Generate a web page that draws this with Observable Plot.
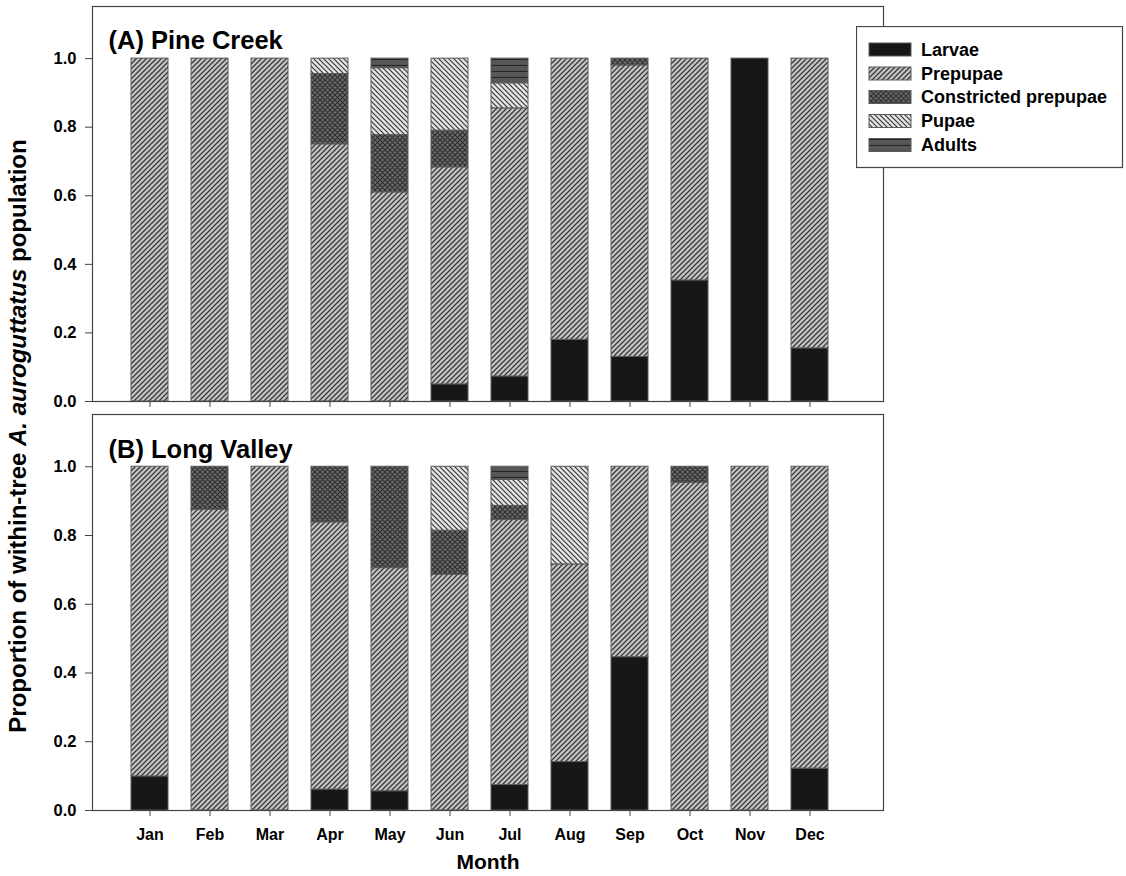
<!DOCTYPE html>
<html>
<head>
<meta charset="utf-8">
<script src="https://cdn.jsdelivr.net/npm/d3@7"></script>
<script src="https://cdn.jsdelivr.net/npm/@observablehq/plot@0.6"></script>
<style>
  body { margin: 0; background: #fff; }
  #wrap { position: relative; width: 1126px; height: 876px; font-family: "Liberation Sans", Arial, sans-serif; }
  #wrap svg { font-family: "Liberation Sans", Arial, sans-serif; }
  .abs { position: absolute; }
  #ylab { position: absolute; left: -332px; top: 423px; width: 700px; height: 26px; line-height: 26px;
          text-align: center; transform: rotate(-90deg); font-weight: bold; font-size: 24px; color: #000; white-space: nowrap; }
</style>
</head>
<body>
<div id="wrap"></div>
<script>
const months = ["Jan","Feb","Mar","Apr","May","Jun","Jul","Aug","Sep","Oct","Nov","Dec"];
const stages = ["Larvae","Prepupae","Constricted prepupae","Pupae","Adults"];
const yTicks = [0, 0.2, 0.4, 0.6, 0.8, 1.0];

// (A) Pine Creek
const pineLarvae      = [0, 0, 0, 0, 0, 0.050, 0.073, 0.180, 0.130, 0.353, 1.000, 0.155];
const pinePrepupae    = [1, 1, 1, 0.750, 0.610, 0.633, 0.782, 0.820, 0.850, 0.647, 0, 0.845];
const pineConstricted = [0, 0, 0, 0.205, 0.167, 0.107, 0, 0, 0.020, 0, 0, 0];
const pinePupae       = [0, 0, 0, 0.045, 0.195, 0.210, 0.073, 0, 0, 0, 0, 0];
const pineAdults      = [0, 0, 0, 0, 0.028, 0, 0.072, 0, 0, 0, 0, 0];

// (B) Long Valley
const longLarvae      = [0.099, 0, 0, 0.061, 0.056, 0, 0.074, 0.141, 0.446, 0, 0, 0.122];
const longPrepupae    = [0.901, 0.875, 1, 0.777, 0.649, 0.686, 0.771, 0.575, 0.554, 0.953, 1, 0.878];
const longConstricted = [0, 0.125, 0, 0.162, 0.295, 0.128, 0.041, 0, 0, 0.047, 0, 0];
const longPupae       = [0, 0, 0, 0, 0, 0.186, 0.076, 0.284, 0, 0, 0, 0];
const longAdults      = [0, 0, 0, 0, 0, 0, 0.038, 0, 0, 0, 0, 0];

const FONT = '"Liberation Sans", Arial, sans-serif';
const Y_MAX = 1.152;

function buildRows(series) {
  const out = [];
  months.forEach((m, i) => stages.forEach((s, j) => {
    const v = series[j][i];
    if (v > 0) out.push({month: m, stage: s, value: v});
  }));
  return out;
}

function makeDefs(prefix) {
  const defs = d3.create("svg:defs");
  const pat = (i, size) => defs.append("pattern").attr("id", prefix + i)
    .attr("patternUnits", "userSpaceOnUse").attr("width", size).attr("height", size);
  let p = pat(0, 5);
  p.append("rect").attr("width", 5).attr("height", 5).attr("fill", "#171717");
  p = pat(1, 5);
  p.append("rect").attr("width", 5).attr("height", 5).attr("fill", "#c4c4c4");
  p.append("path").attr("d", "M0,5L5,0M-1,1L1,-1M4,6L6,4").attr("stroke", "#383838").attr("stroke-width", 1.25);
  p = pat(2, 5);
  p.append("rect").attr("width", 5).attr("height", 5).attr("fill", "#6a6a6a");
  p.append("path").attr("d", "M0,5L5,0M-1,1L1,-1M4,6L6,4M0,0L5,5M-1,4L1,6M4,-1L6,1").attr("stroke", "#2e2e2e").attr("stroke-width", 1.1);
  p = pat(3, 5);
  p.append("rect").attr("width", 5).attr("height", 5).attr("fill", "#e4e4e4");
  p.append("path").attr("d", "M0,0L5,5M-1,4L1,6M4,-1L6,1").attr("stroke", "#383838").attr("stroke-width", 1.2);
  p = defs.append("pattern").attr("id", prefix + 4).attr("patternUnits", "userSpaceOnUse").attr("width", 6).attr("height", 6);
  p.append("rect").attr("width", 6).attr("height", 6).attr("fill", "#575757");
  p.append("path").attr("d", "M0,5.5L6,5.5").attr("stroke", "#262626").attr("stroke-width", 1.2);
  return defs.node();
}

function panel(prefix, title, series, opts) {
  const data = buildRows(series);
  const marks = [
    Plot.barY(data, Plot.stackY({x: "month", y: "value", fill: "stage", stroke: "#5a5a5a", strokeWidth: 1})),
    Plot.frame({stroke: "#444", strokeWidth: 1.2}),
    Plot.axisY({ticks: yTicks, tickFormat: d3.format(".1f"), tickSize: 7, tickPadding: 9, stroke: "#444",
                fontSize: 16.5, fontWeight: "bold", fontFamily: FONT, label: null}),
    Plot.axisX({tickSize: 6, tickPadding: 12, stroke: "#444", label: null,
                tickFormat: opts.showMonths ? (d => d) : (() => ""),
                fontSize: 16, fontWeight: "bold", fontFamily: FONT}),
    Plot.text([title], {text: d => d, frameAnchor: "top-left", dx: 16, dy: opts.titleDy, textAnchor: "start",
                lineAnchor: "middle", fontSize: 25.5, fontWeight: "bold", fontFamily: FONT, fill: "#000"})
  ];
  if (opts.showMonths) {
    marks.push(Plot.text(["Month"], {text: d => d, frameAnchor: "bottom", dy: 52, lineAnchor: "middle", fontSize: 21,
                fontWeight: "bold", fontFamily: FONT, fill: "#000"}));
  }
  const svg = Plot.plot({
    width: 1126,
    height: opts.height,
    marginLeft: 92,
    marginRight: 243,
    marginTop: opts.marginTop,
    marginBottom: opts.marginBottom,
    style: {fontFamily: FONT, background: "transparent", color: "#000"},
    x: {type: "band", domain: months, paddingInner: 0.387, paddingOuter: 0.746, align: 0.417},
    y: {domain: [0, Y_MAX]},
    color: {domain: stages, range: stages.map((_, i) => `url(#${prefix}${i})`)},
    marks
  });
  svg.insertBefore(makeDefs(prefix), svg.firstChild);
  return svg;
}

const wrap = document.getElementById("wrap");

const svgA = panel("pa", "(A) Pine Creek",
  [pineLarvae, pinePrepupae, pineConstricted, pinePupae, pineAdults],
  {height: 412, marginTop: 6, marginBottom: 11, titleDy: 34, showMonths: false});
svgA.classList.add("abs"); svgA.style.left = "0px"; svgA.style.top = "0px";
wrap.appendChild(svgA);

const svgB = panel("pb", "(B) Long Valley",
  [longLarvae, longPrepupae, longConstricted, longPupae, longAdults],
  {height: 464, marginTop: 2, marginBottom: 66, titleDy: 35, showMonths: true});
svgB.classList.add("abs"); svgB.style.left = "0px"; svgB.style.top = "412px";
wrap.appendChild(svgB);

const ylab = document.createElement("div");
ylab.id = "ylab";
ylab.innerHTML = "Proportion of within-tree <i>A. auroguttatus</i> population";
wrap.appendChild(ylab);

const leg = d3.create("svg").attr("width", 268).attr("height", 143)
  .style("position", "absolute").style("left", "856px").style("top", "26px");
leg.node().appendChild(makeDefs("pl"));
leg.append("rect").attr("x", 0.5).attr("y", 0.5).attr("width", 266).attr("height", 141)
  .attr("fill", "#fff").attr("stroke", "#444").attr("stroke-width", 1.2);
const rowY = [23.5, 47.5, 71, 95, 119];
stages.forEach((s, i) => {
  leg.append("rect").attr("x", 13).attr("y", rowY[i] - 6.5).attr("width", 42).attr("height", 13)
    .attr("fill", `url(#pl${i})`).attr("stroke", "#5a5a5a");
  leg.append("text").attr("x", 65).attr("y", rowY[i]).attr("dy", "0.35em")
    .attr("font-family", FONT).attr("font-weight", "bold").attr("font-size", 18).text(s);
});
wrap.appendChild(leg.node());
</script>
</body>
</html>
